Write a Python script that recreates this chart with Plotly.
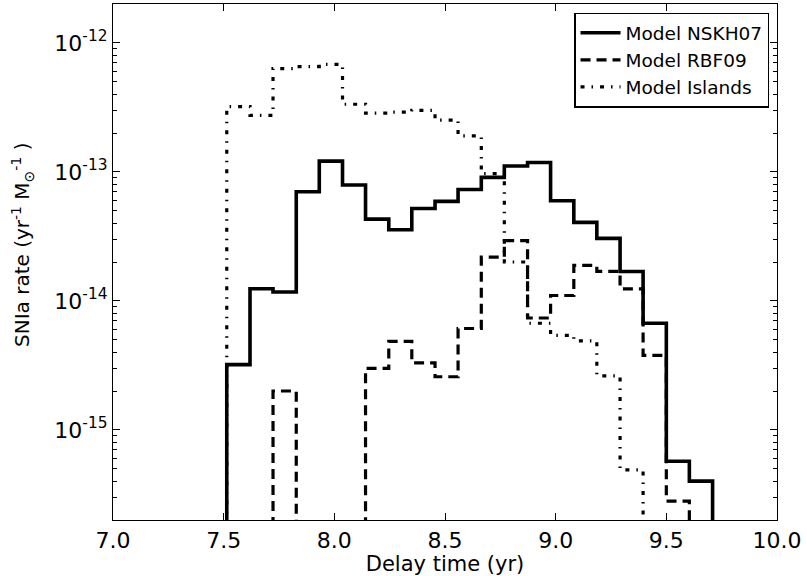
import plotly.graph_objects as go

# Bin edges of the step histograms (log10 of delay time)
bin_edges = [7.514, 7.619, 7.723, 7.828, 7.932, 8.037, 8.141, 8.246, 8.350,
             8.455, 8.559, 8.664, 8.768, 8.873, 8.977, 9.082, 9.186, 9.291,
             9.395, 9.500, 9.604, 9.709]

# SNIa rate per bin (0 = empty bin)
nskh07 = [3.2e-15, 1.24e-14, 1.17e-14, 7.0e-14, 1.21e-13, 7.9e-14, 4.3e-14,
          3.56e-14, 5.2e-14, 5.9e-14, 7.3e-14, 9.06e-14, 1.11e-13, 1.18e-13,
          5.97e-14, 4.06e-14, 3.05e-14, 1.69e-14, 6.7e-15, 5.7e-16, 4.0e-16]
rbf09 = [0, 0, 2.0e-15, 0, 0, 0, 3.0e-15, 4.85e-15, 3.3e-15, 2.58e-15,
         6.1e-15, 2.18e-14, 2.93e-14, 7.36e-15, 1.1e-14, 1.88e-14, 1.69e-14,
         1.24e-14, 3.78e-15, 2.8e-16, 0]
islands = [3.2e-13, 2.74e-13, 6.3e-13, 6.55e-13, 6.8e-13, 3.34e-13, 2.85e-13,
           2.9e-13, 3.0e-13, 2.52e-13, 1.9e-13, 9.7e-14, 2.0e-14, 6.7e-15,
           5.4e-15, 4.9e-15, 2.62e-15, 4.9e-16, 0, 0, 0]

series_names = ["Model NSKH07", "Model RBF09", "Model Islands"]
x_ticks = [7.0, 7.5, 8.0, 8.5, 9.0, 9.5, 10.0]
y_ticks = [1e-15, 1e-14, 1e-13, 1e-12]
y_ticktext = ["10<sup>-15</sup>", "10<sup>-14</sup>", "10<sup>-13</sup>", "10<sup>-12</sup>"]
x_title = "Delay time (yr)"
y_title = "SNIa rate (yr<sup>-1</sup> M<sub>⊙</sub><sup>-1</sup> )"

FLOOR = 1e-18


def step_xy(edges, vals):
    xs, ys = [edges[0]], [FLOOR]
    for i, v in enumerate(vals):
        xs.append(edges[i])
        ys.append(v if v > 0 else FLOOR)
    xs.append(edges[-1])
    ys.append(FLOOR)
    return xs, ys


styles = [
    dict(width=3.6, dash="solid"),
    dict(width=3.2, dash="10px,6px"),
    dict(width=3.2, dash="4px,7px,1.5px,7px"),
]

fig = go.Figure()
for name, vals, st in zip(series_names, [nskh07, rbf09, islands], styles):
    xs, ys = step_xy(bin_edges, vals)
    fig.add_trace(go.Scatter(x=xs, y=ys, mode="lines", name=name,
                             line=dict(color="black", shape="hv", **st)))

font_family = "DejaVu Sans"
fig.update_layout(
    width=807, height=576,
    margin=dict(l=113, r=30, t=4, b=56),
    paper_bgcolor="white", plot_bgcolor="white",
    font=dict(family=font_family, color="black", size=22),
    showlegend=True,
    legend=dict(x=0.988, y=0.983, xanchor="right", yanchor="top",
                bgcolor="white", bordercolor="black", borderwidth=1.5,
                font=dict(size=18.5, family=font_family),
                tracegroupgap=0, itemwidth=40),
)
fig.update_xaxes(
    range=[7.0, 10.0], tickvals=x_ticks, ticktext=[f"{v:.1f}" for v in x_ticks],
    ticks="inside", ticklen=7, tickwidth=1, tickcolor="black",
    showline=True, linecolor="black", linewidth=1.2, mirror="allticks",
    showgrid=False, zeroline=False,
    tickfont=dict(size=22),
    title=dict(text=x_title, font=dict(size=21), standoff=2),
)
fig.update_yaxes(
    type="log", range=[-15.699, -11.699],
    tickvals=y_ticks, ticktext=y_ticktext,
    ticks="inside", ticklen=7, tickwidth=1, tickcolor="black",
    minor=dict(ticks="inside", ticklen=4, tickwidth=1, tickcolor="black",
               dtick="D1", showgrid=False),
    showline=True, linecolor="black", linewidth=1.2, mirror="allticks",
    showgrid=False, zeroline=False,
    tickfont=dict(size=22),
)
fig.add_annotation(
    text=y_title, textangle=-90, showarrow=False,
    xref="paper", yref="paper", x=-0.1355, y=0.533,
    xanchor="center", yanchor="middle",
    font=dict(size=20, family=font_family, color="black"),
)

fig.write_html("out.html")
